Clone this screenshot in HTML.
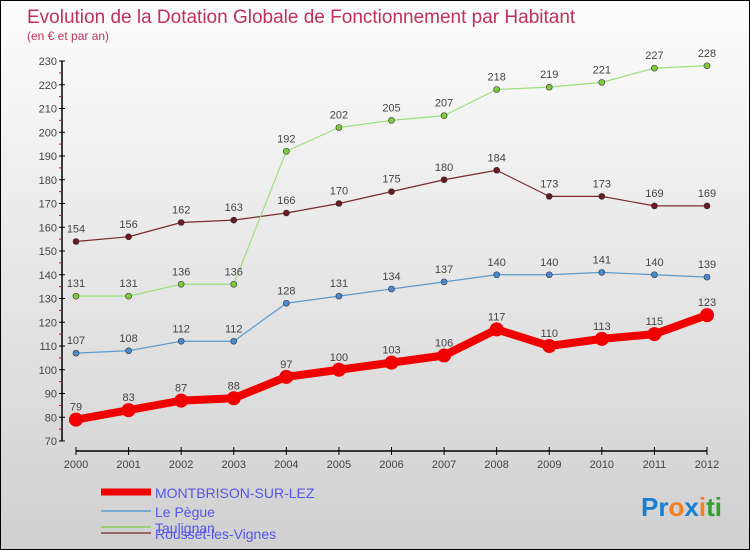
<!DOCTYPE html>
<html><head><meta charset="utf-8"><style>
body{margin:0}
#c{width:750px;height:550px;position:relative;background:linear-gradient(#fdfdfd,#d0d0d0);border:1px solid #000;box-sizing:border-box;overflow:hidden;font-family:"Liberation Sans",sans-serif}
svg text{font-family:"Liberation Sans",sans-serif}
</style></head><body>
<div id="c">
<svg width="750" height="550" id="s">
<text x="26" y="22" font-size="19" fill="#c0305a">Evolution de la Dotation Globale de Fonctionnement par Habitant</text>
<text x="26" y="39" font-size="12" fill="#c0305a">(en € et par an)</text>
<g id="g"></g>
<text x="640" y="515" font-size="26" font-weight="bold"><tspan fill="#1a7fd0">Pr</tspan><tspan fill="#f08020">o</tspan><tspan fill="#1a7fd0">x</tspan><tspan fill="#f08020">i</tspan><tspan fill="#30a030">ti</tspan></text>
</svg>
</div>
<script>
const years=[2000,2001,2002,2003,2004,2005,2006,2007,2008,2009,2010,2011,2012];
const montbrison=[79,83,87,88,97,100,103,106,117,110,113,115,123];
const lePegue=[107,108,112,112,128,131,134,137,140,140,141,140,139];
const taulignan=[131,131,136,136,192,202,205,207,218,219,221,227,228];
const rousset=[154,156,162,163,166,170,175,180,184,173,173,169,169];
const yTicks=[70,80,90,100,110,120,130,140,150,160,170,180,190,200,210,220,230];
const NS="http://www.w3.org/2000/svg";
const g=document.getElementById('g');
const X=i=>75+i*(706-75)/(years.length-1);
const Y=v=>440-(v-70)*380/160;
function el(t,a,p){const e=document.createElementNS(NS,t);for(const k in a)e.setAttribute(k,a[k]);(p||g).appendChild(e);return e;}
// axes
let ya=el('line',{x1:61,y1:60,x2:61,y2:440,stroke:'#000','stroke-width':1.5});


yTicks.forEach(v=>{
 el('line',{x1:58,y1:Y(v),x2:64,y2:Y(v),stroke:'#000'});
 if(v<230){let m=el('line',{x1:58,y1:Y(v+5),x2:61,y2:Y(v+5),stroke:'#e00'});}
 let t=el('text',{x:56,y:Y(v)+4,'font-size':11,'text-anchor':'end',fill:'#444'});t.textContent=v;
 
 
});
let xa=el('line',{x1:75,y1:450,x2:706,y2:450,stroke:'#000','stroke-width':1.5});


years.forEach((yr,i)=>{
 el('line',{x1:X(i),y1:446,x2:X(i),y2:454,stroke:'#000'});
 let t=el('text',{x:X(i),y:467,'font-size':11,'text-anchor':'middle',fill:'#444'});t.textContent=yr;
 
 
});
function series(d,col,dot,w,r,name){
 let p=el('polyline',{points:d.map((v,i)=>X(i)+','+Y(v)).join(' '),fill:'none',stroke:col,'stroke-width':w,'stroke-linejoin':'round'});
 
 
 d.forEach((v,i)=>{
  let c=el('circle',{cx:X(i),cy:Y(v),r:r,fill:dot,stroke:'#333','stroke-width':r>4?0:0.6});
  
  
  let t=el('text',{x:X(i),y:Y(v)-9,'font-size':11,'text-anchor':'middle',fill:'#444'});t.textContent=v;
  
  
 });
}
series(rousset,'#7a2a30','#6a1a20',1.2,3,'rousset');
series(taulignan,'#9de07a','#7ccc3c',1.2,3,'taulignan');
series(lePegue,'#5a9ad0','#4a8ad0',1.2,3,'le-pegue');
series(montbrison,'#f00000','#f00000',8,7,'montbrison');
// legend
const leg=[['MONTBRISON-SUR-LEZ','#f00000',7,497],['Le Pègue','#7aaad0',2,516],['Taulignan','#9ed07a',2,532],['Rousset-les-Vignes','#9a6a6a',2,546-8]];
leg.forEach(([n,c,w,y])=>{
 let l=el('line',{x1:100,y1:y-6,x2:150,y2:y-6,stroke:c,'stroke-width':w});
 
 
 let t=el('text',{x:154,y:y,'font-size':14,fill:'#5555ee'});t.textContent=n;
 
 
});
</script>
</body></html>
